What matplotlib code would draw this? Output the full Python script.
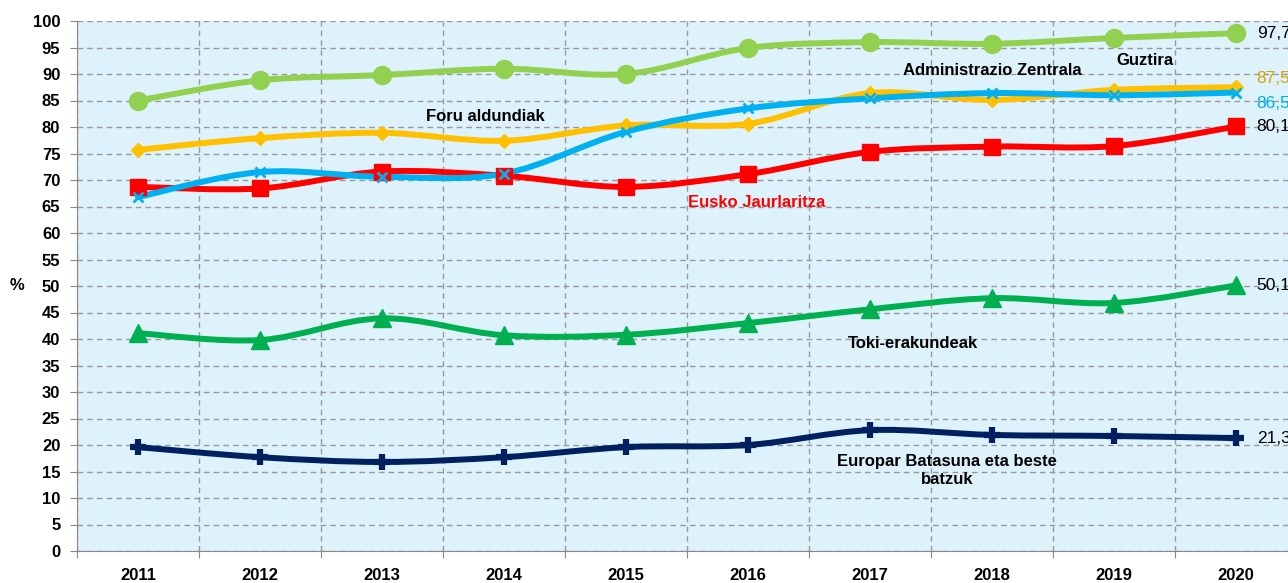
import numpy as np
import matplotlib.pyplot as plt
from matplotlib.path import Path
from matplotlib.patches import PathPatch

plt.rcParams['font.family'] = ['Liberation Sans', 'DejaVu Sans']

# --- datuak ---
years = [2011, 2012, 2013, 2014, 2015, 2016, 2017, 2018, 2019, 2020]
eusko_jaurlaritza = [68.7, 68.4, 71.6, 70.8, 68.7, 71.1, 75.3, 76.3, 76.4, 80.1]
foru_aldundiak = [75.7, 77.9, 78.9, 77.4, 80.3, 80.6, 86.4, 85.1, 87.0, 87.5]
admin_zentrala = [66.8, 71.5, 70.6, 71.2, 79.1, 83.5, 85.4, 86.4, 86.0, 86.5]
toki_erakundeak = [41.1, 39.8, 43.9, 40.7, 40.8, 43.0, 45.6, 47.7, 46.8, 50.1]
europar_batasuna = [19.6, 17.7, 16.8, 17.7, 19.6, 20.0, 22.8, 21.9, 21.7, 21.3]
guztira = [85.0, 88.8, 89.8, 91.0, 90.0, 94.9, 96.0, 95.7, 96.8, 97.7]


def smooth_path(x, y):
    # Excel moduko lerro leunduak (Catmull-Rom -> Bezier)
    pts = np.column_stack([x, y]).astype(float)
    ext = np.vstack([pts[0], pts, pts[-1]])
    verts = [pts[0]]
    codes = [Path.MOVETO]
    for i in range(len(pts) - 1):
        p0, p1, p2, p3 = ext[i], ext[i + 1], ext[i + 2], ext[i + 3]
        verts += [p1 + (p2 - p0) / 6, p2 - (p3 - p1) / 6, p2]
        codes += [Path.CURVE4] * 3
    return Path(verts, codes)


fig = plt.figure(figsize=(12.88, 5.83), dpi=100)
ax = fig.add_axes([77 / 1288, 32 / 583, 1220 / 1288, 530 / 583])
ax.set_facecolor('#DDF2FA')

series = [
    (eusko_jaurlaritza, '#FF0000', 's', 11, 1),
    (foru_aldundiak, '#FFC000', 'D', 7, 1),
    (admin_zentrala, '#00B0F0', 'x', 7, 2),
    (toki_erakundeak, '#00B050', '^', 13, 1),
    (europar_batasuna, '#002060', 'P', 10, 1),
    (guztira, '#92D050', 'o', 13, 1),
]
for vals, col, mk, ms, mew in series:
    ax.add_patch(PathPatch(smooth_path(years, vals), facecolor='none',
                           edgecolor=col, lw=4.3, zorder=3, capstyle='round'))
    if mk == 'P':
        ax.plot(years, vals, ls='none', marker='+', ms=12, mew=4.5,
                color=col, zorder=4)
    else:
        ax.plot(years, vals, ls='none', marker=mk, ms=ms, mew=mew,
                color=col, mec=col, zorder=4)

ax.set_xlim(2010.5, 2020.5)
ax.set_ylim(0, 100)
ax.set_yticks(range(0, 101, 5))
ax.set_xticks(np.arange(2010.5, 2021, 1))
ax.set_xticklabels([])
ax.set_xticks(years, minor=True)
ax.set_xticklabels([str(y) for y in years], minor=True)
ax.tick_params(axis='x', which='minor', length=0, pad=12)
ax.tick_params(axis='x', which='major', length=5, color='#888888', direction='out')
ax.tick_params(axis='y', length=5, color='#888888', pad=7)
for lab in ax.get_xticklabels(minor=True) + ax.get_yticklabels():
    lab.set_fontweight('bold')
    lab.set_fontsize(12)

ax.grid(True, which='major', color='#999999', ls=(0, (4, 3)), lw=1)
ax.set_axisbelow(True)
for s in ['top', 'right']:
    ax.spines[s].set_visible(False)
ax.spines['left'].set_color('#888888')
ax.spines['bottom'].set_color('#888888')

fig.text(17 / 1288, 1 - 285 / 583, '%', fontsize=12, fontweight='bold',
         ha='center', va='center')

# serie izenak
fs = 12
ax.text(2013.85, 82, 'Foru aldundiak', fontsize=fs, fontweight='bold', ha='center', va='center')
ax.text(2018.0, 90.6, 'Administrazio Zentrala', fontsize=fs, fontweight='bold', ha='center', va='center')
ax.text(2019.25, 92.6, 'Guztira', fontsize=fs, fontweight='bold', ha='center', va='center')
ax.text(2016.07, 65.7, 'Eusko Jaurlaritza', fontsize=fs, fontweight='bold', color='#FF0000',
        ha='center', va='center')
ax.text(2017.35, 39.1, 'Toki-erakundeak', fontsize=fs, fontweight='bold', ha='center', va='center')
ax.text(2017.63, 15.2, 'Europar Batasuna eta beste\nbatzuk', fontsize=fs, fontweight='bold',
        ha='center', va='center', linespacing=1.25)

# azken balioak
ax.text(2020.17, 97.7, '97,7', fontsize=12.5, va='center')
ax.text(2020.17, 89.1, '87,5', fontsize=12.5, va='center', color='#D4A500')
ax.text(2020.17, 84.4, '86,5', fontsize=12.5, va='center', color='#00B0F0')
ax.text(2020.17, 80.1, '80,1', fontsize=12.5, va='center')
ax.text(2020.17, 50.1, '50,1', fontsize=12.5, va='center')
ax.text(2020.17, 21.3, '21,3', fontsize=12.5, va='center')

fig.savefig('out.png', dpi=100)
